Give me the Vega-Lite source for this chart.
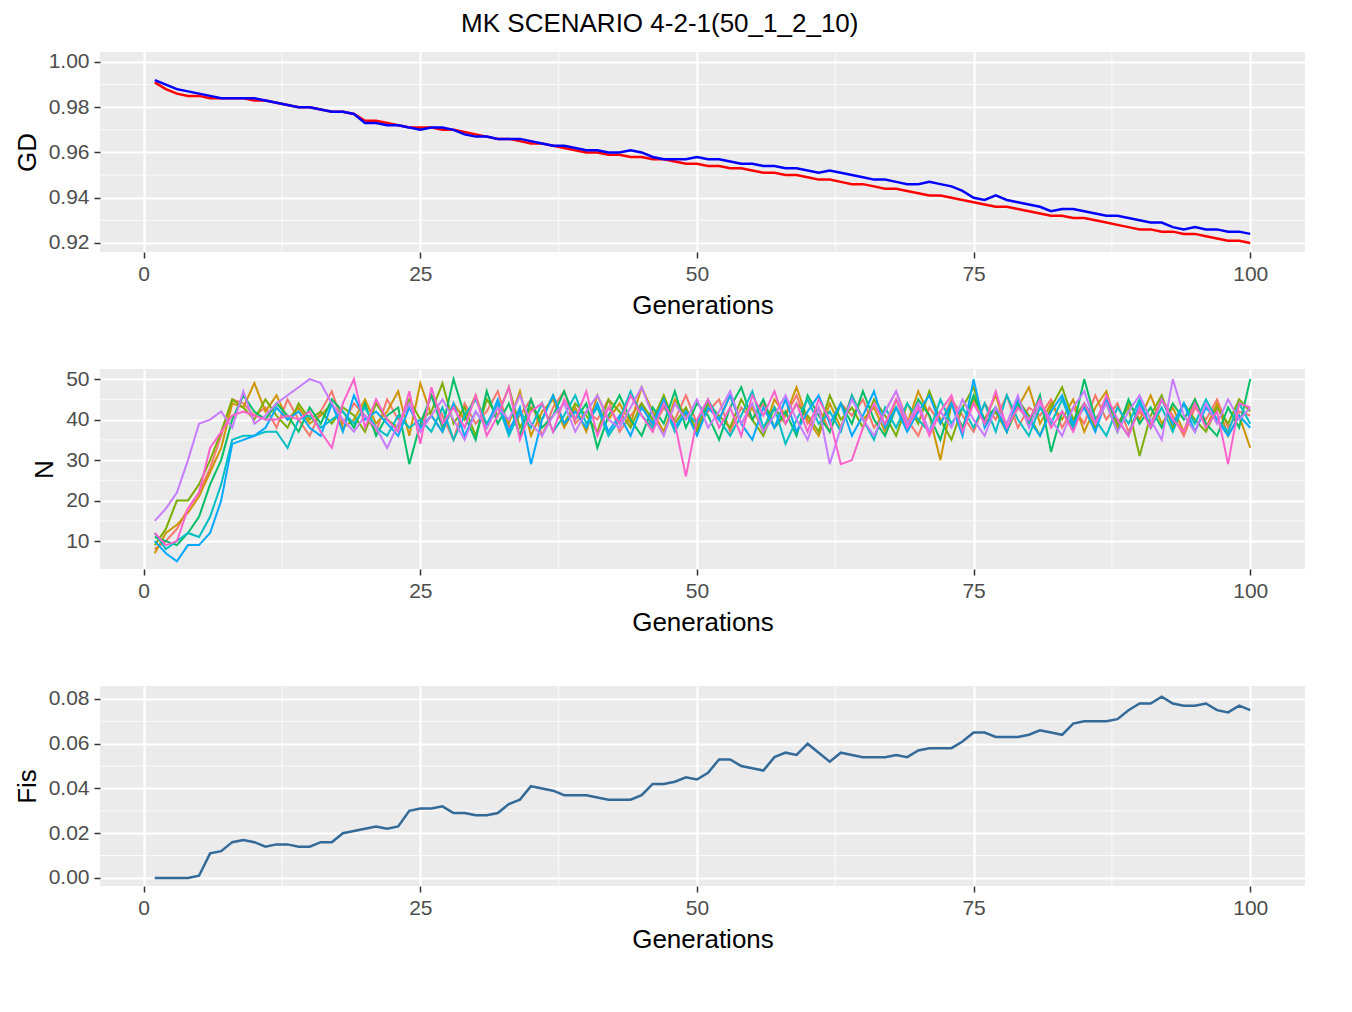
{
  "$schema": "https://vega.github.io/schema/vega-lite/v6.json",
  "title": {"text": "MK SCENARIO 4-2-1(50_1_2_10)", "fontSize": 26, "fontWeight": "normal", "font": "Liberation Sans", "color": "#000000", "anchor": "middle", "offset": 14},
  "padding": {"left": 14, "top": 10, "right": 15, "bottom": 10},
  "spacing": 50,
  "data": {"values": [
    {"g":1,"r":0.991,"b":0.992,"f":0,"n1":8,"n2":7,"n3":9,"n4":11,"n5":12,"n6":10,"n7":15,"n8":12},
    {"g":2,"r":0.988,"b":0.990,"f":0,"n1":10,"n2":12,"n3":13,"n4":10,"n5":8,"n6":7,"n7":18,"n8":9},
    {"g":3,"r":0.986,"b":0.988,"f":0,"n1":13,"n2":14,"n3":20,"n4":9,"n5":10,"n6":5,"n7":22,"n8":10},
    {"g":4,"r":0.985,"b":0.987,"f":0,"n1":18,"n2":17,"n3":20,"n4":12,"n5":12,"n6":9,"n7":30,"n8":18},
    {"g":5,"r":0.985,"b":0.986,"f":0.001,"n1":22,"n2":21,"n3":24,"n4":16,"n5":11,"n6":9,"n7":39,"n8":22},
    {"g":6,"r":0.984,"b":0.985,"f":0.011,"n1":28,"n2":27,"n3":30,"n4":24,"n5":16,"n6":12,"n7":40,"n8":33},
    {"g":7,"r":0.984,"b":0.984,"f":0.012,"n1":36,"n2":33,"n3":37,"n4":30,"n5":24,"n6":20,"n7":42,"n8":37},
    {"g":8,"r":0.984,"b":0.984,"f":0.016,"n1":45,"n2":44,"n3":45,"n4":40,"n5":35,"n6":34,"n7":38,"n8":41},
    {"g":9,"r":0.984,"b":0.984,"f":0.017,"n1":44,"n2":43,"n3":43,"n4":46,"n5":36,"n6":35,"n7":47,"n8":42},
    {"g":10,"r":0.983,"b":0.984,"f":0.016,"n1":41,"n2":49,"n3":40,"n4":42,"n5":36,"n6":36,"n7":39,"n8":41},
    {"g":11,"r":0.983,"b":0.983,"f":0.014,"n1":43,"n2":42,"n3":45,"n4":40,"n5":37,"n6":38,"n7":41,"n8":40},
    {"g":12,"r":0.982,"b":0.982,"f":0.015,"n1":38,"n2":46,"n3":41,"n4":44,"n5":37,"n6":43,"n7":44,"n8":40},
    {"g":13,"r":0.981,"b":0.981,"f":0.015,"n1":45,"n2":40,"n3":38,"n4":41,"n5":33,"n6":40,"n7":46,"n8":41},
    {"g":14,"r":0.980,"b":0.980,"f":0.014,"n1":40,"n2":43,"n3":44,"n4":37,"n5":40,"n6":42,"n7":48,"n8":40},
    {"g":15,"r":0.980,"b":0.980,"f":0.014,"n1":36,"n2":39,"n3":40,"n4":43,"n5":41,"n6":38,"n7":50,"n8":42},
    {"g":16,"r":0.979,"b":0.979,"f":0.016,"n1":42,"n2":41,"n3":42,"n4":39,"n5":38,"n6":36,"n7":49,"n8":37},
    {"g":17,"r":0.978,"b":0.978,"f":0.016,"n1":47,"n2":44,"n3":39,"n4":45,"n5":40,"n6":44,"n7":44,"n8":33},
    {"g":18,"r":0.978,"b":0.978,"f":0.020,"n1":39,"n2":38,"n3":43,"n4":42,"n5":42,"n6":37,"n7":40,"n8":44},
    {"g":19,"r":0.977,"b":0.977,"f":0.021,"n1":44,"n2":40,"n3":41,"n4":38,"n5":39,"n6":46,"n7":37,"n8":50},
    {"g":20,"r":0.974,"b":0.973,"f":0.022,"n1":41,"n2":45,"n3":37,"n4":44,"n5":43,"n6":40,"n7":41,"n8":38},
    {"g":21,"r":0.974,"b":0.973,"f":0.023,"n1":37,"n2":39,"n3":44,"n4":36,"n5":38,"n6":42,"n7":38,"n8":45},
    {"g":22,"r":0.973,"b":0.972,"f":0.022,"n1":45,"n2":42,"n3":40,"n4":41,"n5":36,"n6":39,"n7":33,"n8":40},
    {"g":23,"r":0.972,"b":0.972,"f":0.023,"n1":40,"n2":47,"n3":38,"n4":43,"n5":41,"n6":36,"n7":39,"n8":37},
    {"g":24,"r":0.971,"b":0.971,"f":0.030,"n1":43,"n2":36,"n3":45,"n4":29,"n5":38,"n6":43,"n7":44,"n8":47},
    {"g":25,"r":0.971,"b":0.970,"f":0.031,"n1":38,"n2":49,"n3":40,"n4":39,"n5":40,"n6":38,"n7":37,"n8":34},
    {"g":26,"r":0.971,"b":0.971,"f":0.031,"n1":46,"n2":41,"n3":42,"n4":46,"n5":37,"n6":41,"n7":41,"n8":48},
    {"g":27,"r":0.970,"b":0.971,"f":0.032,"n1":41,"n2":37,"n3":49,"n4":38,"n5":43,"n6":37,"n7":45,"n8":39},
    {"g":28,"r":0.970,"b":0.970,"f":0.029,"n1":35,"n2":44,"n3":39,"n4":50,"n5":35,"n6":44,"n7":40,"n8":43},
    {"g":29,"r":0.969,"b":0.968,"f":0.029,"n1":44,"n2":40,"n3":43,"n4":41,"n5":41,"n6":36,"n7":35,"n8":38},
    {"g":30,"r":0.968,"b":0.967,"f":0.028,"n1":39,"n2":46,"n3":36,"n4":35,"n5":45,"n6":42,"n7":42,"n8":46},
    {"g":31,"r":0.967,"b":0.967,"f":0.028,"n1":42,"n2":38,"n3":45,"n4":47,"n5":39,"n6":38,"n7":38,"n8":36},
    {"g":32,"r":0.966,"b":0.966,"f":0.029,"n1":47,"n2":43,"n3":41,"n4":39,"n5":44,"n6":45,"n7":43,"n8":41},
    {"g":33,"r":0.966,"b":0.966,"f":0.033,"n1":38,"n2":39,"n3":48,"n4":44,"n5":36,"n6":37,"n7":40,"n8":48},
    {"g":34,"r":0.965,"b":0.966,"f":0.035,"n1":41,"n2":47,"n3":38,"n4":36,"n5":42,"n6":43,"n7":46,"n8":35},
    {"g":35,"r":0.964,"b":0.965,"f":0.041,"n1":45,"n2":36,"n3":43,"n4":45,"n5":38,"n6":29,"n7":39,"n8":42},
    {"g":36,"r":0.964,"b":0.964,"f":0.040,"n1":36,"n2":42,"n3":40,"n4":38,"n5":44,"n6":40,"n7":36,"n8":44},
    {"g":37,"r":0.963,"b":0.963,"f":0.039,"n1":43,"n2":45,"n3":46,"n4":41,"n5":37,"n6":46,"n7":41,"n8":37},
    {"g":38,"r":0.962,"b":0.963,"f":0.037,"n1":47,"n2":38,"n3":39,"n4":47,"n5":41,"n6":39,"n7":44,"n8":45},
    {"g":39,"r":0.961,"b":0.962,"f":0.037,"n1":39,"n2":43,"n3":44,"n4":40,"n5":46,"n6":42,"n7":37,"n8":40},
    {"g":40,"r":0.960,"b":0.961,"f":0.037,"n1":42,"n2":37,"n3":41,"n4":44,"n5":39,"n6":38,"n7":42,"n8":47},
    {"g":41,"r":0.960,"b":0.961,"f":0.036,"n1":40,"n2":46,"n3":37,"n4":33,"n5":43,"n6":44,"n7":46,"n8":36},
    {"g":42,"r":0.959,"b":0.960,"f":0.035,"n1":45,"n2":40,"n3":45,"n4":41,"n5":36,"n6":37,"n7":40,"n8":43},
    {"g":43,"r":0.959,"b":0.960,"f":0.035,"n1":37,"n2":44,"n3":42,"n4":46,"n5":40,"n6":41,"n7":38,"n8":39},
    {"g":44,"r":0.958,"b":0.961,"f":0.035,"n1":41,"n2":39,"n3":38,"n4":40,"n5":47,"n6":36,"n7":43,"n8":46},
    {"g":45,"r":0.958,"b":0.960,"f":0.037,"n1":44,"n2":48,"n3":44,"n4":36,"n5":41,"n6":43,"n7":48,"n8":41},
    {"g":46,"r":0.957,"b":0.958,"f":0.042,"n1":38,"n2":42,"n3":40,"n4":43,"n5":38,"n6":39,"n7":41,"n8":37},
    {"g":47,"r":0.957,"b":0.957,"f":0.042,"n1":43,"n2":37,"n3":46,"n4":39,"n5":44,"n6":45,"n7":36,"n8":44},
    {"g":48,"r":0.956,"b":0.957,"f":0.043,"n1":40,"n2":45,"n3":39,"n4":47,"n5":37,"n6":38,"n7":44,"n8":39},
    {"g":49,"r":0.955,"b":0.957,"f":0.045,"n1":46,"n2":41,"n3":43,"n4":38,"n5":42,"n6":42,"n7":40,"n8":26},
    {"g":50,"r":0.955,"b":0.958,"f":0.044,"n1":39,"n2":38,"n3":37,"n4":44,"n5":39,"n6":36,"n7":45,"n8":40},
    {"g":51,"r":0.954,"b":0.957,"f":0.047,"n1":42,"n2":44,"n3":44,"n4":41,"n5":45,"n6":43,"n7":38,"n8":45},
    {"g":52,"r":0.954,"b":0.957,"f":0.053,"n1":45,"n2":40,"n3":41,"n4":35,"n5":40,"n6":40,"n7":42,"n8":38},
    {"g":53,"r":0.953,"b":0.956,"f":0.053,"n1":37,"n2":46,"n3":38,"n4":43,"n5":36,"n6":46,"n7":47,"n8":43},
    {"g":54,"r":0.953,"b":0.955,"f":0.050,"n1":43,"n2":39,"n3":45,"n4":48,"n5":41,"n6":39,"n7":39,"n8":36},
    {"g":55,"r":0.952,"b":0.955,"f":0.049,"n1":40,"n2":43,"n3":40,"n4":40,"n5":47,"n6":35,"n7":44,"n8":46},
    {"g":56,"r":0.951,"b":0.954,"f":0.048,"n1":44,"n2":37,"n3":36,"n4":45,"n5":38,"n6":43,"n7":37,"n8":41},
    {"g":57,"r":0.951,"b":0.954,"f":0.054,"n1":38,"n2":45,"n3":43,"n4":38,"n5":43,"n6":38,"n7":41,"n8":47},
    {"g":58,"r":0.950,"b":0.953,"f":0.056,"n1":41,"n2":41,"n3":39,"n4":42,"n5":34,"n6":45,"n7":46,"n8":39},
    {"g":59,"r":0.950,"b":0.953,"f":0.055,"n1":46,"n2":48,"n3":44,"n4":36,"n5":40,"n6":37,"n7":40,"n8":44},
    {"g":60,"r":0.949,"b":0.952,"f":0.060,"n1":39,"n2":40,"n3":41,"n4":46,"n5":45,"n6":42,"n7":35,"n8":37},
    {"g":61,"r":0.948,"b":0.951,"f":0.056,"n1":43,"n2":36,"n3":37,"n4":41,"n5":39,"n6":46,"n7":43,"n8":45},
    {"g":62,"r":0.948,"b":0.952,"f":0.052,"n1":37,"n2":44,"n3":46,"n4":37,"n5":42,"n6":39,"n7":29,"n8":40},
    {"g":63,"r":0.947,"b":0.951,"f":0.056,"n1":44,"n2":38,"n3":40,"n4":44,"n5":37,"n6":44,"n7":38,"n8":29},
    {"g":64,"r":0.946,"b":0.950,"f":0.055,"n1":41,"n2":46,"n3":43,"n4":39,"n5":46,"n6":36,"n7":45,"n8":30},
    {"g":65,"r":0.946,"b":0.949,"f":0.054,"n1":45,"n2":40,"n3":38,"n4":47,"n5":40,"n6":41,"n7":40,"n8":38},
    {"g":66,"r":0.945,"b":0.948,"f":0.054,"n1":38,"n2":43,"n3":45,"n4":40,"n5":35,"n6":47,"n7":36,"n8":44},
    {"g":67,"r":0.944,"b":0.948,"f":0.054,"n1":42,"n2":37,"n3":41,"n4":36,"n5":43,"n6":38,"n7":42,"n8":39},
    {"g":68,"r":0.944,"b":0.947,"f":0.055,"n1":47,"n2":45,"n3":36,"n4":43,"n5":38,"n6":43,"n7":47,"n8":45},
    {"g":69,"r":0.943,"b":0.946,"f":0.054,"n1":40,"n2":39,"n3":44,"n4":38,"n5":44,"n6":37,"n7":39,"n8":38},
    {"g":70,"r":0.942,"b":0.946,"f":0.057,"n1":36,"n2":47,"n3":39,"n4":45,"n5":40,"n6":42,"n7":44,"n8":43},
    {"g":71,"r":0.941,"b":0.947,"f":0.058,"n1":43,"n2":41,"n3":47,"n4":41,"n5":37,"n6":46,"n7":37,"n8":36},
    {"g":72,"r":0.941,"b":0.946,"f":0.058,"n1":39,"n2":30,"n3":40,"n4":35,"n5":45,"n6":39,"n7":42,"n8":42},
    {"g":73,"r":0.940,"b":0.945,"f":0.058,"n1":45,"n2":44,"n3":35,"n4":44,"n5":39,"n6":44,"n7":38,"n8":46},
    {"g":74,"r":0.939,"b":0.943,"f":0.061,"n1":41,"n2":38,"n3":43,"n4":38,"n5":43,"n6":36,"n7":45,"n8":37},
    {"g":75,"r":0.938,"b":0.940,"f":0.065,"n1":37,"n2":45,"n3":48,"n4":46,"n5":38,"n6":50,"n7":40,"n8":44},
    {"g":76,"r":0.937,"b":0.939,"f":0.065,"n1":44,"n2":40,"n3":39,"n4":40,"n5":44,"n6":38,"n7":36,"n8":39},
    {"g":77,"r":0.936,"b":0.941,"f":0.063,"n1":40,"n2":46,"n3":42,"n4":43,"n5":37,"n6":43,"n7":43,"n8":47},
    {"g":78,"r":0.936,"b":0.939,"f":0.063,"n1":46,"n2":37,"n3":37,"n4":37,"n5":46,"n6":37,"n7":39,"n8":38},
    {"g":79,"r":0.935,"b":0.938,"f":0.063,"n1":38,"n2":43,"n3":45,"n4":44,"n5":40,"n6":45,"n7":46,"n8":43},
    {"g":80,"r":0.934,"b":0.937,"f":0.064,"n1":43,"n2":48,"n3":41,"n4":39,"n5":36,"n6":40,"n7":38,"n8":40},
    {"g":81,"r":0.933,"b":0.936,"f":0.066,"n1":41,"n2":39,"n3":36,"n4":46,"n5":43,"n6":36,"n7":44,"n8":45},
    {"g":82,"r":0.932,"b":0.934,"f":0.065,"n1":45,"n2":44,"n3":43,"n4":32,"n5":39,"n6":42,"n7":40,"n8":38},
    {"g":83,"r":0.932,"b":0.935,"f":0.064,"n1":38,"n2":40,"n3":48,"n4":42,"n5":45,"n6":46,"n7":36,"n8":42},
    {"g":84,"r":0.931,"b":0.935,"f":0.069,"n1":43,"n2":45,"n3":40,"n4":38,"n5":38,"n6":39,"n7":43,"n8":37},
    {"g":85,"r":0.931,"b":0.934,"f":0.070,"n1":39,"n2":37,"n3":44,"n4":50,"n5":44,"n6":43,"n7":47,"n8":44},
    {"g":86,"r":0.930,"b":0.933,"f":0.070,"n1":46,"n2":43,"n3":38,"n4":40,"n5":40,"n6":37,"n7":39,"n8":39},
    {"g":87,"r":0.929,"b":0.932,"f":0.070,"n1":40,"n2":47,"n3":45,"n4":44,"n5":36,"n6":45,"n7":44,"n8":46},
    {"g":88,"r":0.928,"b":0.932,"f":0.071,"n1":44,"n2":38,"n3":39,"n4":37,"n5":43,"n6":40,"n7":37,"n8":40},
    {"g":89,"r":0.927,"b":0.931,"f":0.075,"n1":37,"n2":44,"n3":43,"n4":45,"n5":39,"n6":36,"n7":42,"n8":36},
    {"g":90,"r":0.926,"b":0.930,"f":0.078,"n1":42,"n2":40,"n3":31,"n4":39,"n5":45,"n6":44,"n7":46,"n8":43},
    {"g":91,"r":0.926,"b":0.929,"f":0.078,"n1":39,"n2":46,"n3":41,"n4":43,"n5":38,"n6":38,"n7":40,"n8":38},
    {"g":92,"r":0.925,"b":0.929,"f":0.081,"n1":45,"n2":39,"n3":46,"n4":38,"n5":43,"n6":45,"n7":35,"n8":45},
    {"g":93,"r":0.925,"b":0.927,"f":0.078,"n1":41,"n2":43,"n3":38,"n4":44,"n5":37,"n6":39,"n7":50,"n8":40},
    {"g":94,"r":0.924,"b":0.926,"f":0.077,"n1":36,"n2":37,"n3":44,"n4":40,"n5":44,"n6":44,"n7":41,"n8":37},
    {"g":95,"r":0.924,"b":0.927,"f":0.077,"n1":43,"n2":45,"n3":40,"n4":45,"n5":39,"n6":37,"n7":37,"n8":44},
    {"g":96,"r":0.923,"b":0.926,"f":0.078,"n1":40,"n2":38,"n3":37,"n4":39,"n5":45,"n6":43,"n7":44,"n8":38},
    {"g":97,"r":0.922,"b":0.926,"f":0.075,"n1":45,"n2":44,"n3":43,"n4":36,"n5":40,"n6":40,"n7":39,"n8":42},
    {"g":98,"r":0.921,"b":0.925,"f":0.074,"n1":38,"n2":36,"n3":39,"n4":43,"n5":37,"n6":36,"n7":45,"n8":29},
    {"g":99,"r":0.921,"b":0.925,"f":0.077,"n1":42,"n2":41,"n3":45,"n4":38,"n5":44,"n6":41,"n7":40,"n8":44},
    {"g":100,"r":0.920,"b":0.924,"f":0.075,"n1":41,"n2":33,"n3":42,"n4":50,"n5":39,"n6":38,"n7":43,"n8":43}
  ]},
  "vconcat": [
    {
      "width": 1205, "height": 200,
      "layer": [
        {"data": {"values": [{"v": 12.5}, {"v": 37.5}, {"v": 62.5}, {"v": 87.5}]},
         "mark": {"type": "rule", "color": "white", "strokeWidth": 0.8},
         "encoding": {"x": {"field": "v", "type": "quantitative", "scale": {"domain": [-3.95, 104.95]}}}},
        {"data": {"values": [{"v": 0.93}, {"v": 0.95}, {"v": 0.97}, {"v": 0.99}]},
         "mark": {"type": "rule", "color": "white", "strokeWidth": 0.8},
         "encoding": {"y": {"field": "v", "type": "quantitative", "scale": {"domain": [0.916, 1.0044]}}}},
        {"mark": {"type": "line", "color": "#FF0000", "strokeWidth": 2.5},
         "encoding": {
           "x": {"field": "g", "type": "quantitative", "title": "Generations", "scale": {"domain": [-3.95, 104.95], "nice": false}, "axis": {"values": [0, 25, 50, 75, 100]}},
           "y": {"field": "r", "type": "quantitative", "title": "GD", "scale": {"domain": [0.916, 1.0044], "nice": false, "zero": false}, "axis": {"values": [0.92, 0.94, 0.96, 0.98, 1.0], "format": ".2f"}}
         }},
        {"mark": {"type": "line", "color": "#0000FF", "strokeWidth": 2.5},
         "encoding": {"x": {"field": "g", "type": "quantitative"}, "y": {"field": "b", "type": "quantitative"}}}
      ]
    },
    {
      "width": 1205, "height": 200,
      "transform": [{"fold": ["n1", "n2", "n3", "n4", "n5", "n6", "n7", "n8"], "as": ["rep", "n"]}],
      "layer": [
        {"data": {"values": [{"v": 12.5}, {"v": 37.5}, {"v": 62.5}, {"v": 87.5}]},
         "mark": {"type": "rule", "color": "white", "strokeWidth": 0.8},
         "encoding": {"x": {"field": "v", "type": "quantitative", "scale": {"domain": [-3.95, 104.95]}}}},
        {"data": {"values": [{"v": 15}, {"v": 25}, {"v": 35}, {"v": 45}]},
         "mark": {"type": "rule", "color": "white", "strokeWidth": 0.8},
         "encoding": {"y": {"field": "v", "type": "quantitative", "scale": {"domain": [3.1, 52.5]}}}},
        {"mark": {"type": "line", "strokeWidth": 2},
         "encoding": {
           "x": {"field": "g", "type": "quantitative", "title": "Generations", "scale": {"domain": [-3.95, 104.95], "nice": false}, "axis": {"values": [0, 25, 50, 75, 100]}},
           "y": {"field": "n", "type": "quantitative", "title": "N", "scale": {"domain": [3.1, 52.5], "nice": false, "zero": false}, "axis": {"values": [10, 20, 30, 40, 50]}},
           "color": {"field": "rep", "type": "nominal", "legend": null, "scale": {"domain": ["n1", "n2", "n3", "n4", "n5", "n6", "n7", "n8"], "range": ["#F8766D", "#CD9600", "#7CAE00", "#00BE67", "#00BFC4", "#00A9FF", "#C77CFF", "#FF61CC"]}}
         }}
      ]
    },
    {
      "width": 1205, "height": 200,
      "layer": [
        {"data": {"values": [{"v": 12.5}, {"v": 37.5}, {"v": 62.5}, {"v": 87.5}]},
         "mark": {"type": "rule", "color": "white", "strokeWidth": 0.8},
         "encoding": {"x": {"field": "v", "type": "quantitative", "scale": {"domain": [-3.95, 104.95]}}}},
        {"data": {"values": [{"v": 0.01}, {"v": 0.03}, {"v": 0.05}, {"v": 0.07}]},
         "mark": {"type": "rule", "color": "white", "strokeWidth": 0.8},
         "encoding": {"y": {"field": "v", "type": "quantitative", "scale": {"domain": [-0.0036, 0.0858]}}}},
        {"mark": {"type": "line", "color": "#336A98", "strokeWidth": 2.5},
         "encoding": {
           "x": {"field": "g", "type": "quantitative", "title": "Generations", "scale": {"domain": [-3.95, 104.95], "nice": false}, "axis": {"values": [0, 25, 50, 75, 100]}},
           "y": {"field": "f", "type": "quantitative", "title": "Fis", "scale": {"domain": [-0.0036, 0.0858], "nice": false, "zero": false}, "axis": {"values": [0, 0.02, 0.04, 0.06, 0.08], "format": ".2f"}}
         }}
      ]
    }
  ],
  "config": {
    "font": "Liberation Sans",
    "view": {"fill": "#EBEBEB", "stroke": null},
    "axis": {
      "domain": false, "gridColor": "#FFFFFF", "gridWidth": 2.2, "tickColor": "#333333", "tickSize": 6, "tickWidth": 1.5,
      "labelFontSize": 21, "labelColor": "#4D4D4D", "labelPadding": 5,
      "titleFontSize": 26, "titleFontWeight": "normal", "titleColor": "#000000", "titlePadding": 8
    },
    "axisX": {"labelFlush": false}
  }
}
